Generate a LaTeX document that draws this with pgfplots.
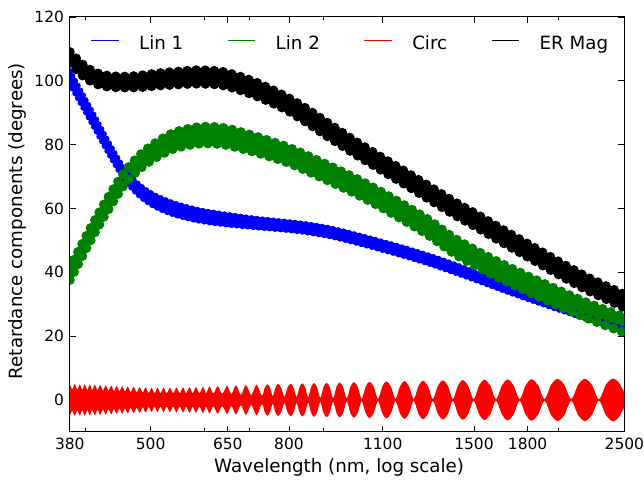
\documentclass[border=0pt]{standalone}
\usepackage{fontspec}
\setmainfont{DejaVu Sans}
\usepackage{pgfplots}
\pgfplotsset{compat=1.18}
\usepackage{pgfplotstable}
\usepgfplotslibrary{fillbetween}

\definecolor{mplgreen}{rgb}{0,0.5,0}

% Upper and lower edges of the Lin 1 (b), Lin 2 (g) and ER Mag (k) bands
\pgfplotstableread{
lam    bu    bl    gu    gl    ku    kl
380    103.6 98.4  42.1  36.9  109.7 104.9
399.8  95.1  90.1  51.1  45.9  105.2 100.4
417.8  87.6  82.8  58.6  53.4  103.0 98.2
435.1  80.7  76.1  64.9  59.7  102.2 97.4
457.8  72.8  68.4  72.1  66.9  102.0 97.2
481.6  67.9  63.3  77.3  71.7  102.3 97.3
506.7  64.8  60.0  81.0  75.0  102.9 97.7
542.2  62.2  57.4  84.5  78.1  103.5 98.1
590.1  60.1  55.5  86.2  79.6  104.0 98.4
642.3  58.8  54.4  85.9  79.3  103.4 97.8
711.0  57.5  53.5  83.4  77.0  100.4 94.8
787.0  56.5  52.7  80.3  74.1  96.0  90.6
842.1  55.8  52.0  77.7  71.5  92.4  86.8
916.5  54.5  50.7  74.1  67.9  87.2  81.6
997.5  52.6  48.8  70.4  64.2  82.0  76.6
1085.6 50.5  46.7  66.3  60.1  77.2  71.8
1181.5 48.3  44.5  61.8  55.6  72.5  67.1
1285.9 45.9  42.1  57.1  50.9  67.7  62.3
1399.4 43.2  39.4  51.5  45.3  62.9  57.5
1523.1 40.2  36.6  47.1  40.9  58.5  53.1
1657.6 36.9  33.7  43.1  36.9  53.9  48.5
1816.3 33.5  30.7  39.1  32.9  49.1  43.7
1997.0 30.1  27.7  35.1  28.9  44.1  38.7
2210.5 26.6  24.6  31.0  24.8  39.0  33.6
2500   22.8  21.0  26.6  20.4  33.7  28.3
}\linband

% Envelope of the circular retardance fringes
\pgfplotstableread{
lam    up
380    5.0
383.2  3.3
386.5  5.0
389.8  3.3
393.1  4.9
396.4  3.2
399.8  4.9
403.2  3.2
406.6  4.8
410.1  3.1
413.6  4.8
417.4  3.1
421.3  4.7
425.3  3.0
429.3  4.6
433.3  2.9
437.3  4.5
441.4  2.8
445.6  4.4
449.7  2.7
453.9  4.3
458.2  2.6
462.5  4.2
467.2  2.5
472.0  4.1
476.8  2.4
481.6  4.0
486.6  2.3
491.5  3.9
496.5  2.2
501.6  3.8
506.7  2.1
511.9  3.8
517.1  2.1
522.4  3.8
528.2  2.1
534.0  3.8
540.0  2.1
545.9  3.9
552.0  2.1
558.1  3.9
564.2  2.1
570.5  4.0
576.8  2.1
583.2  4.0
590.1  2.1
597.2  4.1
603.8  2.1
610.5  4.2
618.8  2.0
627.9  4.3
637.9  1.9
648.2  4.4
657.7  1.8
668.2  4.6
679.6  1.6
691.3  4.7
703.8  1.5
716.5  4.8
730.0  1.3
736.9  3.8
743.7  4.9
750.4  3.8
757.2  1.2
764.1  3.9
771.1  5.0
779.4  3.8
787.8  1.0
796.4  3.9
805.0  5.1
813.0  3.8
821.0  0.9
829.1  3.9
837.3  5.2
845.6  3.9
853.9  0.8
862.5  4.0
871.1  5.3
880.5  3.9
889.9  0.6
899.6  4.0
909.4  5.4
919.5  3.9
929.6  0.5
939.9  4.0
950.3  5.5
961.8  4.0
973.4  0.4
985.4  4.0
997.5  5.6
1010.8 4.0
1024.2 0.35
1038.0 4.1
1051.9 5.7
1067.2 4.1
1082.6 0.3
1098.4 4.2
1114.3 5.8
1131.4 4.2
1148.7 0.3
1166.4 4.2
1184.3 5.9
1203.2 4.2
1222.2 0.25
1241.7 4.3
1261.3 6.0
1283.0 4.3
1304.7 0.25
1327.1 4.4
1349.7 6.1
1372.8 4.4
1396.1 0.2
1420.0 4.4
1444.2 6.2
1471.0 4.4
1498.0 0.2
1526.0 4.5
1554.3 6.3
1585.3 4.5
1616.6 0.2
1649.2 4.5
1682.0 6.4
1716.7 4.5
1751.7 0.2
1787.9 4.6
1824.3 6.5
1865.2 4.6
1906.4 0.2
1949.2 4.7
1992.2 6.6
2039.4 4.7
2086.9 0.2
2136.3 4.7
2186.0 6.6
2239.3 4.7
2292.8 0.2
2348.6 4.8
2405.8 6.7
2452.6 5.5
2500   2.2
}\circband

% row of round bumps along one edge of a band (the fringe ripple)
\newcommand\rippleplot[5]{\addplot[#1, line width=#2, line cap=round,
  dash pattern=on 0pt off #3, yshift=#4, smooth, forget plot]
  table[x=lam, y=#5] {\linband};}

\begin{document}
\begin{tikzpicture}
\begin{axis}[
  scale only axis, width=556bp, height=416bp,
  at={(0,0)}, anchor=south west,
  xmode=log, xmin=380, xmax=2500, ymin=-10, ymax=120,
  xtick={380,500,650,800,1100,1500,1800,2500},
  xticklabels={380,500,650,800,1100,1500,1800,2500},
  minor xtick={400,600,700,900,2000},
  ytick={0,20,40,60,80,100,120},
  tick align=inside, tick pos=both,
  major tick length=6bp, minor tick length=3.5bp,
  every tick/.style={black, line width=0.8bp},
  axis line style={black, line width=1bp},
  /pgf/number format/assume math mode=true,
  tick label style={font=\fontsize{15.5bp}{18bp}\selectfont},
  xticklabel style={inner sep=0pt, yshift=-6.3bp},
  yticklabel style={inner sep=0pt, xshift=-5.7bp},
  xlabel={Wavelength (nm, log scale)},
  ylabel={Retardance components (degrees)},
  every axis x label/.style={at={(axis description cs:0.4856,-0.0986)}, anchor=base,
    font=\fontsize{18.3bp}{22bp}\selectfont},
  every axis y label/.style={at={(axis description cs:-0.0858,0.508)}, rotate=90, anchor=base,
    font=\fontsize{18.3bp}{22bp}\selectfont},
  legend columns=4,
  legend style={draw=none, fill=none, inner sep=0pt,
    at={(axis description cs:0.0372,0.9363)}, anchor=west,
    font=\fontsize{18.3bp}{22bp}\selectfont,
    nodes={inner sep=0pt},
    /tikz/every odd column/.append style={column sep=20bp},
    /tikz/every even column/.append style={column sep=44bp}},
  legend image code/.code={\draw[#1, line width=1bp] (0bp,2.9bp) -- (27.6bp,2.9bp);},
]
% Lin 1
\addplot[draw=none, smooth, name path=bU, forget plot] table[x=lam, y=bu] {\linband};
\addplot[draw=none, smooth, name path=bL, forget plot] table[x=lam, y=bl] {\linband};
\addplot[fill=blue, draw=none, forget plot] fill between[of=bU and bL];
\rippleplot{blue}{6bp}{5.5bp}{-2bp}{bu}
\rippleplot{blue}{6bp}{5.5bp}{2bp}{bl}
% Lin 2
\addplot[draw=none, smooth, name path=gU, forget plot] table[x=lam, y=gu] {\linband};
\addplot[draw=none, smooth, name path=gL, forget plot] table[x=lam, y=gl] {\linband};
\addplot[fill=mplgreen, draw=none, forget plot] fill between[of=gU and gL];
\rippleplot{mplgreen}{10bp}{9bp}{-2.2bp}{gu}
\rippleplot{mplgreen}{10bp}{9bp}{2.2bp}{gl}
% Circ
\addplot[draw=none, smooth, name path=cU, forget plot] table[x=lam, y=up] {\circband};
\addplot[draw=none, smooth, name path=cL, forget plot] table[x=lam, y expr=-\thisrow{up}] {\circband};
\addplot[fill=red, draw=none, forget plot] fill between[of=cU and cL];
% ER Mag
\addplot[draw=none, smooth, name path=kU, forget plot] table[x=lam, y=ku] {\linband};
\addplot[draw=none, smooth, name path=kL, forget plot] table[x=lam, y=kl] {\linband};
\addplot[fill=black, draw=none, forget plot] fill between[of=kU and kL];
\rippleplot{black}{10bp}{9bp}{-2.2bp}{ku}
\rippleplot{black}{10bp}{9bp}{2.2bp}{kl}

\addlegendimage{blue}
\addlegendentry{Lin 1}
\addlegendimage{mplgreen}
\addlegendentry{Lin 2}
\addlegendimage{red}
\addlegendentry{Circ}
\addlegendimage{black}
\addlegendentry{ER Mag}
\end{axis}
\useasboundingbox (-70bp,-46bp) rectangle (574bp,433bp);
\end{tikzpicture}
\end{document}
